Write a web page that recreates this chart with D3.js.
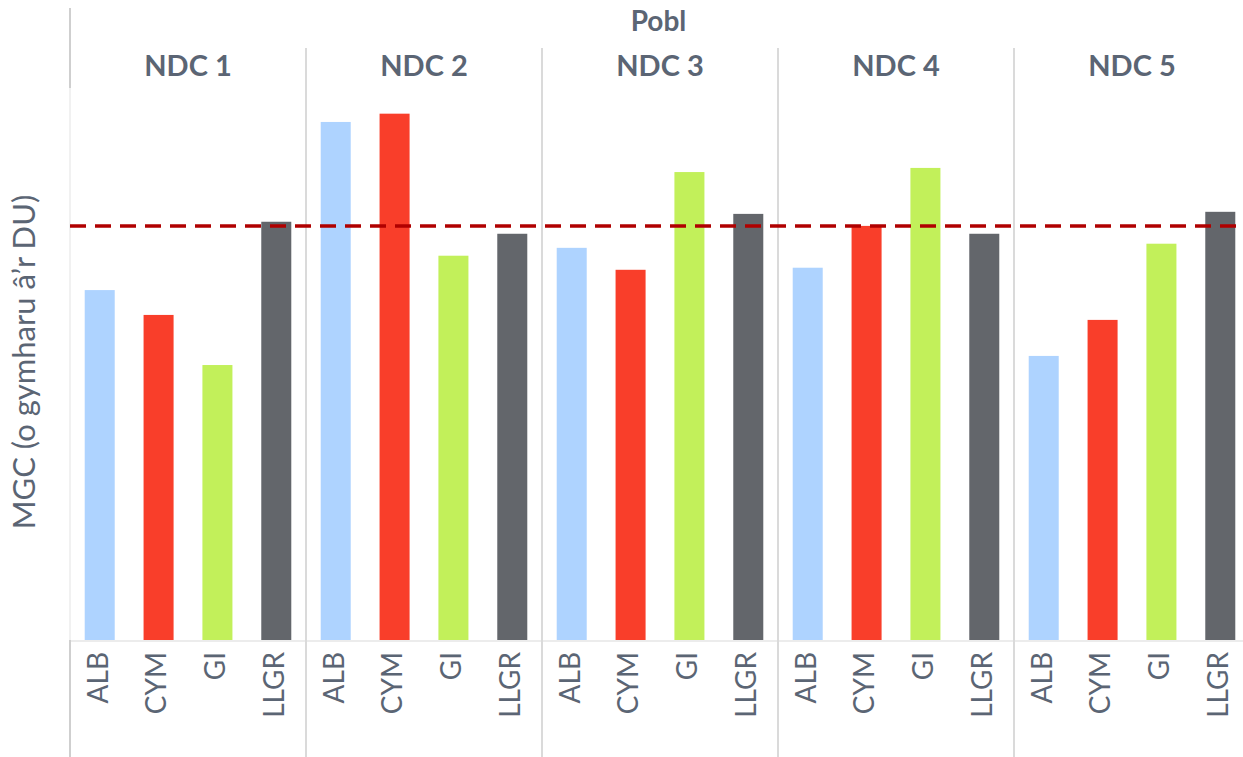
<!DOCTYPE html>
<html>
<head>
<meta charset="utf-8">
<script src="https://cdn.jsdelivr.net/npm/d3@7"></script>
<style>
  body { margin: 0; background: #fff; }
  svg text { font-family: Lato, "Open Sans", sans-serif; fill: #5b6574; }
</style>
</head>
<body>
<div id="chart"></div>
<script>
// data
const panels = ["NDC 1", "NDC 2", "NDC 3", "NDC 4", "NDC 5"];
const groups = ["ALB", "CYM", "GI", "LLGR"];
const alb  = [84.5, 125.1, 94.7, 89.9, 68.6];
const cym  = [78.5, 127.1, 89.4, 100.0, 77.3];
const gi   = [66.4, 92.8, 113.0, 114.0, 95.7];
const llgr = [101.0, 98.1, 102.9, 98.1, 103.4];
const ukLine = 100;
const colours = ["#aed3ff", "#f93e2a", "#c2f05a", "#63666b"];

const series = [alb, cym, gi, llgr];

const w = 1243, h = 757;
const margin = { top: 88, right: 0, bottom: 117, left: 70 };
const innerH = h - margin.top - margin.bottom;
const panelW = 236;

const svg = d3.select("#chart").append("svg")
  .attr("width", w).attr("height", h);

const xPanel = d3.scaleBand().domain(panels)
  .range([margin.left, margin.left + panelW * panels.length]);
const xBar = d3.scaleBand().domain(groups).range([0, panelW]).paddingInner(0.49).paddingOuter(0.25);
const y = d3.scaleLinear().domain([0, 133.3]).range([margin.top + innerH, margin.top]);

// baseline
svg.append("line")
  .attr("x1", margin.left).attr("x2", w)
  .attr("y1", y(0) + 1).attr("y2", y(0) + 1)
  .attr("stroke", "#ececec").attr("stroke-width", 2);

// left border
svg.append("line").attr("x1", 70).attr("x2", 70).attr("y1", 8).attr("y2", 88)
  .attr("stroke", "#cfcfcf").attr("stroke-width", 2);
svg.append("line").attr("x1", 70).attr("x2", 70).attr("y1", 88).attr("y2", y(0))
  .attr("stroke", "#f1f1f1").attr("stroke-width", 2);
svg.append("line").attr("x1", 70).attr("x2", 70).attr("y1", y(0)).attr("y2", h)
  .attr("stroke", "#cfcfcf").attr("stroke-width", 2);

// separators
panels.slice(1).forEach(p => {
  svg.append("line")
    .attr("x1", xPanel(p)).attr("x2", xPanel(p))
    .attr("y1", 48).attr("y2", h)
    .attr("stroke", "#dadada").attr("stroke-width", 2);
});

// header
svg.append("text")
  .attr("x", (margin.left + w) / 2 + 2).attr("y", 31)
  .attr("text-anchor", "middle")
  .style("font-size", "28px").style("font-weight", "bold")
  .text("Pobl");

svg.selectAll(".panel-label").data(panels).enter()
  .append("text").attr("class", "panel-label")
  .attr("x", d => xPanel(d) + panelW / 2)
  .attr("y", 76)
  .attr("text-anchor", "middle")
  .style("font-size", "29px").style("font-weight", "bold")
  .text(d => d);

// bars
const g = svg.selectAll(".panel").data(panels).enter()
  .append("g").attr("class", "panel")
  .attr("transform", d => `translate(${xPanel(d)},0)`);

g.selectAll("rect")
  .data((d, i) => groups.map((k, j) => ({ key: k, value: series[j][i], c: colours[j] })))
  .enter().append("rect")
  .attr("x", d => xBar(d.key))
  .attr("width", xBar.bandwidth())
  .attr("y", d => y(d.value))
  .attr("height", d => y(0) - y(d.value))
  .attr("fill", d => d.c);

// category labels
g.each(function () {
  const axis = d3.axisBottom(xBar).tickSize(0).tickPadding(0);
  const a = d3.select(this).append("g")
    .attr("transform", `translate(-2,${y(0) + 12})`)
    .call(axis);
  a.select(".domain").remove();
  a.selectAll("text")
    .attr("transform", "rotate(-90)")
    .attr("text-anchor", "end")
    .attr("x", 0).attr("y", 0).attr("dy", "0.35em")
    .style("font-size", "28px")
    .style("fill", "#5b6574")
    .style("font-family", "Lato, 'Open Sans', sans-serif");
});

// reference line
svg.append("line")
  .attr("x1", 70).attr("x2", w)
  .attr("y1", y(ukLine)).attr("y2", y(ukLine))
  .attr("stroke", "#b00000").attr("stroke-width", 3.5)
  .attr("stroke-dasharray", "16,9");

// y title
svg.append("text")
  .attr("transform", `translate(35,362) rotate(-90)`)
  .attr("text-anchor", "middle")
  .style("font-size", "31px")
  .text("MGC (o gymharu â’r DU)");
</script>
</body>
</html>
